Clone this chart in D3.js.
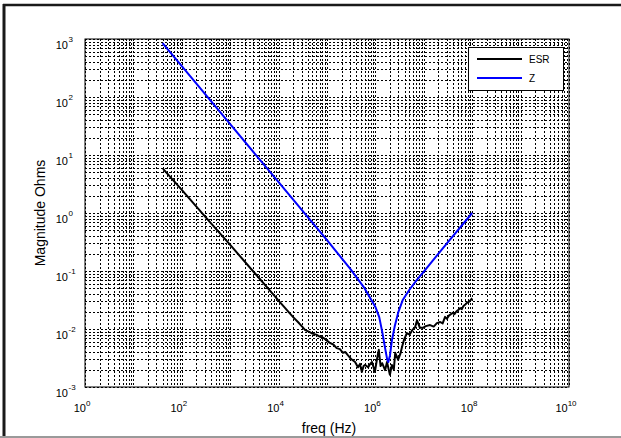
<!DOCTYPE html>
<html><head><meta charset="utf-8">
<script src="https://cdn.jsdelivr.net/npm/d3@7"></script>
<style>body{margin:0;background:#fff}svg{display:block}text{font-family:"Liberation Sans",Arial,Helvetica,sans-serif}</style>
</head><body>
<script>
// Data
const zFreq = [40,100,1e3,1e4,1e5,3e5,6e5,1e6,1.2e6,1.4e6,1.6e6,1.75e6,1.85e6,2.0e6,2.2e6,2.5e6,3e6,3.7e6,5e6,7e6,1e7,3e7,1e8];
const zMag  = [850,340,34,3.4,0.34,0.11,0.05,0.024,0.016,0.0085,0.0045,0.003,0.0027,0.0035,0.0065,0.011,0.02,0.032,0.047,0.068,0.098,0.30,1.0];
const esrFreq = [41,100,316,1000,3162,1e4,15850,20000,25120,30000,35480,42000,50120,60000,70790,85000,1e5,114800,135000,158500,185000,213800,240000,269200,320000,380200,436500,480000,524800,570000,616600,707900,780000,851100,977200,1.072e6,1.175e6,1.28e6,1.380e6,1.585e6,1.738e6,1.995e6,2.188e6,2.40e6,2.570e6,2.951e6,3.3e6,3.548e6,3.890e6,4.467e6,5.1e6,5.754e6,6.607e6,7.244e6,8.318e6,9.550e6,1.1e7,1.349e7,1.6e7,1.862e7,2.188e7,2.45e7,2.754e7,3.0e7,3.3e7,3.981e7,4.3e7,4.7e7,5.2e7,5.623e7,6.1e7,6.6e7,7.2e7,7.762e7,8.8e7,1e8];
const esrMag  = [5.75,2.51,0.832,0.282,0.0933,0.0309,0.0200,0.0160,0.0132,0.0112,0.00955,0.00900,0.00832,0.00800,0.00741,0.00700,0.00631,0.00575,0.00540,0.00468,0.00450,0.00389,0.00400,0.00355,0.00300,0.00269,0.00219,0.00250,0.00182,0.00230,0.00240,0.00219,0.00250,0.00269,0.00182,0.00295,0.00437,0.00230,0.00257,0.00195,0.00269,0.00162,0.00240,0.00200,0.00389,0.00295,0.00380,0.00490,0.00646,0.00851,0.00800,0.00955,0.0107,0.0141,0.0105,0.0105,0.0112,0.0117,0.0110,0.0126,0.0132,0.0125,0.0162,0.0150,0.0170,0.0191,0.0180,0.0200,0.0215,0.0229,0.0220,0.0250,0.0265,0.0282,0.0300,0.0339];
const xDecades = [0,2,4,6,8,10];
const yDecades = [-3,-2,-1,0,1,2,3];
const seriesNames = ["ESR","Z"];
const seriesColors = ["#000000","#0000ff"];

const W = 621, H = 438;
const m = {left:85, right:569, top:39, bottom:387};
const svg = d3.select("body").append("svg").attr("width",W).attr("height",H);

// outer frame
svg.append("line").attr("x1",3).attr("x2",W).attr("y1",5).attr("y2",5).attr("stroke","#1a1a1a").attr("stroke-width",2.5);
svg.append("line").attr("x1",4).attr("x2",4).attr("y1",4).attr("y2",H).attr("stroke","#1a1a1a").attr("stroke-width",3);
svg.append("line").attr("x1",0).attr("x2",W).attr("y1",437).attr("y2",437).attr("stroke","#9a9a9a").attr("stroke-width",2);

const x = d3.scaleLog().domain([1,1e10]).range([m.left,m.right]);
const y = d3.scaleLog().domain([1e-3,1e3]).range([m.bottom,m.top]);

// grid
const gx = [], gy = [];
for (let d=0; d<10; d++) for (let k=1;k<10;k++) gx.push(k*Math.pow(10,d));
gx.push(1e10);
for (let d=-3; d<3; d++) for (let k=1;k<10;k++) gy.push(k*Math.pow(10,d));
gy.push(1e3);
const grid = svg.append("g").attr("stroke","#000").attr("stroke-width",1).attr("stroke-dasharray","2,2");
grid.selectAll(".gx").data(gx).join("line").attr("x1",d=>Math.round(x(d))+0.5).attr("x2",d=>Math.round(x(d))+0.5).attr("y1",m.top).attr("y2",m.bottom);
grid.selectAll(".gy").data(gy).join("line").attr("y1",d=>Math.round(y(d))+0.5).attr("y2",d=>Math.round(y(d))+0.5).attr("x1",m.left).attr("x2",m.right);

// box
svg.append("rect").attr("x",m.left).attr("y",m.top).attr("width",m.right-m.left).attr("height",m.bottom-m.top).attr("fill","none").attr("stroke","#000").attr("stroke-width",1);

// tick labels
const xl = svg.append("g");
xDecades.forEach(e=>{
  const t = xl.append("text").attr("x",x(Math.pow(10,e))-3).attr("y",412).attr("text-anchor","middle").attr("font-size",11);
  t.append("tspan").text("10");
  t.append("tspan").attr("font-size",8).attr("dy",-6).text(e);
});
const yl = svg.append("g");
yDecades.forEach(e=>{
  const yy = y(Math.pow(10,e));
  yl.append("text").attr("x",68).attr("y",yy+10).attr("text-anchor","end").attr("font-size",11).text("10");
  yl.append("text").attr("x",68.5).attr("y",yy+3).attr("text-anchor","start").attr("font-size",8).text(e);
});

// axis labels
svg.append("text").attr("x",(m.left+m.right)/2+2).attr("y",433).attr("text-anchor","middle").attr("font-size",14).text("freq (Hz)");
svg.append("text").attr("transform",`translate(45,${(m.top+m.bottom)/2}) rotate(-90)`).attr("text-anchor","middle").attr("font-size",14).text("Magnitude Ohms");

// curves
const line = d3.line().x(d=>x(d[0])).y(d=>y(d[1]));
const esrData = esrFreq.map((f,i)=>[f,esrMag[i]]);
const zData = zFreq.map((f,i)=>[f,zMag[i]]);
svg.append("path").datum(esrData).attr("d",line).attr("fill","none").attr("stroke",seriesColors[0]).attr("stroke-width",2).attr("stroke-linejoin","round");
svg.append("path").datum(zData).attr("d",line).attr("fill","none").attr("stroke",seriesColors[1]).attr("stroke-width",2).attr("stroke-linejoin","round");

// legend
const lg = svg.append("g");
lg.append("rect").attr("x",468.5).attr("y",47.5).attr("width",95).attr("height",43).attr("fill","#fff").attr("stroke","#000").attr("stroke-width",1);
[59,78].forEach((ly,i)=>{
  lg.append("line").attr("x1",477).attr("x2",522).attr("y1",ly).attr("y2",ly).attr("stroke",seriesColors[i]).attr("stroke-width",2);
  lg.append("text").attr("x",529).attr("y",ly+4).attr("font-size",10).text(seriesNames[i]);
});
</script>
</body></html>
